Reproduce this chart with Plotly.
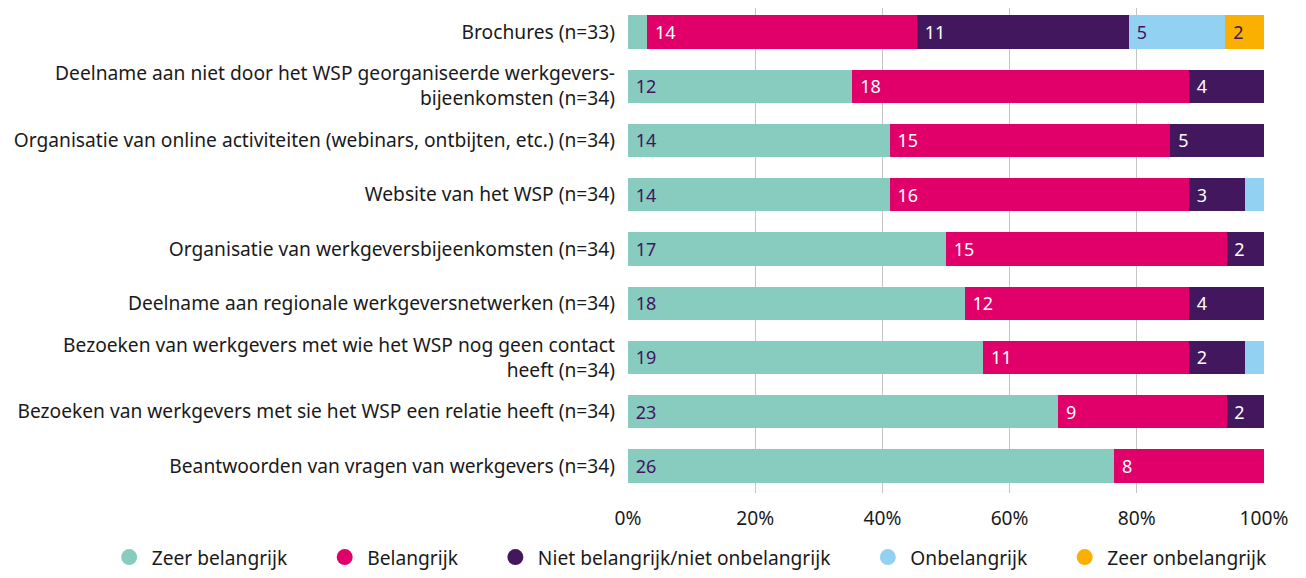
import plotly.graph_objects as go

categories = [
    "Brochures (n=33)",
    "Deelname aan niet door het WSP georganiseerde werkgevers-<br>bijeenkomsten (n=34)",
    "Organisatie van online activiteiten (webinars, ontbijten, etc.) (n=34)",
    "Website van het WSP (n=34)",
    "Organisatie van werkgeversbijeenkomsten (n=34)",
    "Deelname aan regionale werkgeversnetwerken (n=34)",
    "Bezoeken van werkgevers met wie het WSP nog geen contact<br>heeft (n=34)",
    "Bezoeken van werkgevers met sie het WSP een relatie heeft (n=34)",
    "Beantwoorden van vragen van werkgevers (n=34)",
]

zeer_belangrijk = [1, 12, 14, 14, 17, 18, 19, 23, 26]
belangrijk = [14, 18, 15, 16, 15, 12, 11, 9, 8]
neutraal = [11, 4, 5, 3, 2, 4, 3, 2, 0]
onbelangrijk = [5, 0, 0, 1, 0, 0, 1, 0, 0]
zeer_onbelangrijk = [2, 0, 0, 0, 0, 0, 0, 0, 0]

# labels as printed in the source chart (small segments unlabeled)
labels_zeer_belangrijk = ["", "12", "14", "14", "17", "18", "19", "23", "26"]
labels_belangrijk = ["14", "18", "15", "16", "15", "12", "11", "9", "8"]
labels_neutraal = ["11", "4", "5", "3", "2", "4", "2", "2", ""]
labels_onbelangrijk = ["5", "", "", "", "", "", "", "", ""]
labels_zeer_onbelangrijk = ["2", "", "", "", "", "", "", "", ""]

tick_values = [0, 20, 40, 60, 80, 100]
tick_labels = ["0%", "20%", "40%", "60%", "80%", "100%"]

series = [
    ("Zeer belangrijk", zeer_belangrijk, labels_zeer_belangrijk, "#88CBBF", "#42145F"),
    ("Belangrijk", belangrijk, labels_belangrijk, "#E1006A", "#FFFFFF"),
    ("Niet belangrijk/niet onbelangrijk", neutraal, labels_neutraal, "#42175E", "#FFFFFF"),
    ("Onbelangrijk", onbelangrijk, labels_onbelangrijk, "#93D1F2", "#42145F"),
    ("Zeer onbelangrijk", zeer_onbelangrijk, labels_zeer_onbelangrijk, "#F9B000", "#42145F"),
]

FONT = "Noto Sans"
FS = 19.2
fig = go.Figure()
for name, vals, labs, color, tcolor in series:
    fig.add_trace(go.Bar(
        y=categories, x=vals, orientation="h", name=name,
        marker=dict(color=color, line=dict(width=0)),
        text=["\u00a0" + t if t else "" for t in labs],
        textposition="inside", insidetextanchor="start",
        textfont=dict(color=tcolor, size=18, family=FONT),
        showlegend=False, hoverinfo="skip",
    ))
for i, (name, vals, labs, color, tcolor) in enumerate(series):
    fig.add_trace(go.Scatter(
        x=[None], y=[None], mode="markers",
        name=name + ("\u00a0" * 6 if i < len(series) - 1 else ""),
        marker=dict(color=color, size=17, symbol="circle"),
    ))

fig.update_layout(
    barmode="stack", barnorm="percent", bargap=0.39,
    width=1298, height=570,
    margin=dict(l=620, r=42, t=0, b=85),
    paper_bgcolor="white", plot_bgcolor="white",
    font=dict(family=FONT, size=FS, color="#1a1a1a"),
    xaxis=dict(range=[0, 100], tickvals=tick_values, ticktext=tick_labels,
               showgrid=True, gridcolor="#c4c4c4", gridwidth=1, zeroline=False,
               showline=False, ticks="", ticklabelstandoff=12, automargin=False,
               tickfont=dict(size=FS, family=FONT, color="#1a1a1a")),
    yaxis=dict(autorange=False, range=[8.498, -0.442], showgrid=False, ticks="",
               ticklabelstandoff=12, automargin=False,
               tickfont=dict(size=FS, family=FONT, color="#1a1a1a")),
    legend=dict(orientation="h", xref="paper", yref="paper",
                x=-0.8197, xanchor="left", y=-0.093, yanchor="top",
                traceorder="normal",
                font=dict(size=FS, family=FONT, color="#1a1a1a"),
                itemwidth=35),
)

fig.write_html("out.html")
